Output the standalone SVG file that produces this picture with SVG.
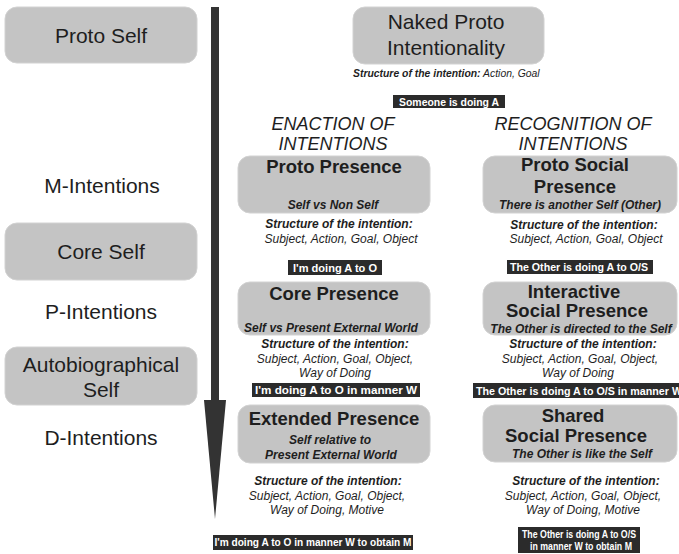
<svg xmlns="http://www.w3.org/2000/svg" width="679" height="554" viewBox="0 0 679 554">
  <style>
    text { font-family: "Liberation Sans", Arial, sans-serif; fill: #1e1e1e; }
    .box { fill: #c4c4c4; stroke: #d2d2d2; stroke-width: 1; }
    .tag { fill: #2b2b2b; }
    .side { font-size: 21px; text-anchor: middle; }
    .head { font-size: 21px; text-anchor: middle; }
    .title { font-size: 18.5px; font-weight: bold; text-anchor: middle; }
    .sub { font-size: 12px; font-weight: bold; font-style: italic; text-anchor: middle; }
    .col { font-size: 18px; font-style: italic; text-anchor: middle; }
    .sl { font-size: 12px; font-weight: bold; font-style: italic; text-anchor: middle; }
    .sv { font-size: 12px; font-style: italic; text-anchor: middle; }
    .tagt { fill: #ffffff; font-size: 10.5px; font-weight: bold; }
    .arrow { fill: #333333; }
  </style>

  <!-- vertical development arrow -->
  <g id="connectors">
    <rect class="arrow" x="211" y="7" width="8" height="394"/>
    <polygon class="arrow" points="204,400 226,400 215,519"/>
  </g>

  <!-- left column: selves and intention levels -->
  <g id="proto-self">
    <rect class="box" x="5" y="7" width="192" height="56" rx="12"/>
    <text class="side" x="101" y="43">Proto Self</text>
  </g>
  <g id="m-intentions">
    <text class="side" x="102" y="193">M-Intentions</text>
  </g>
  <g id="core-self">
    <rect class="box" x="5" y="223" width="192" height="57" rx="12"/>
    <text class="side" x="101" y="259">Core Self</text>
  </g>
  <g id="p-intentions">
    <text class="side" x="101" y="319">P-Intentions</text>
  </g>
  <g id="autobiographical-self">
    <rect class="box" x="5" y="347" width="192" height="58" rx="12"/>
    <text class="side" x="101" y="372">Autobiographical</text>
    <text class="side" x="101" y="397">Self</text>
  </g>
  <g id="d-intentions">
    <text class="side" x="101" y="445">D-Intentions</text>
  </g>

  <!-- top: naked proto intentionality -->
  <g id="naked-proto-intentionality">
    <rect class="box" x="353" y="7" width="191" height="57" rx="12"/>
    <text class="head" x="446" y="29">Naked Proto</text>
    <text class="head" x="446" y="55">Intentionality</text>
    <text x="353" y="77" style="font-size:10.4px"><tspan font-weight="bold" font-style="italic">Structure of the intention:</tspan><tspan font-style="italic"> Action, Goal</tspan></text>
  </g>
  <g id="tag-someone">
    <rect class="tag" x="393" y="95" width="112" height="13"/>
    <text class="tagt" x="449" y="105.5" text-anchor="middle" textLength="100" lengthAdjust="spacingAndGlyphs">Someone is doing A</text>
  </g>

  <!-- column headings -->
  <g id="enaction-heading">
    <text class="col" x="333" y="130">ENACTION OF</text>
    <text class="col" x="333" y="150">INTENTIONS</text>
  </g>
  <g id="recognition-heading">
    <text class="col" x="573" y="130">RECOGNITION OF</text>
    <text class="col" x="573" y="150">INTENTIONS</text>
  </g>

  <!-- enaction column -->
  <g id="proto-presence">
    <rect class="box" x="238" y="156" width="192" height="57" rx="12"/>
    <text class="title" x="334" y="173">Proto Presence</text>
    <text class="sub" x="333" y="209">Self vs Non Self</text>
    <text class="sl" x="339" y="228">Structure of the intention:</text>
    <text class="sv" x="341" y="243">Subject, Action, Goal, Object</text>
  </g>
  <g id="tag-doing-a-o">
    <rect class="tag" x="288" y="260" width="94" height="15"/>
    <text class="tagt" x="335" y="271.5" text-anchor="middle" textLength="84" lengthAdjust="spacingAndGlyphs">I'm doing A to O</text>
  </g>

  <g id="core-presence">
    <rect class="box" x="238" y="282" width="192" height="53" rx="12"/>
    <text class="title" x="334" y="300">Core Presence</text>
    <text class="sub" x="331" y="332">Self vs Present External World</text>
    <text class="sl" x="335" y="348">Structure of the intention:</text>
    <text class="sv" x="335" y="363">Subject, Action, Goal, Object,</text>
    <text class="sv" x="335" y="377">Way of Doing</text>
  </g>
  <g id="tag-doing-manner">
    <rect class="tag" x="252" y="383" width="168" height="14"/>
    <text class="tagt" x="336" y="394" text-anchor="middle" textLength="162" lengthAdjust="spacingAndGlyphs">I'm doing A to O in manner W</text>
  </g>

  <g id="extended-presence">
    <rect class="box" x="238" y="405" width="192" height="58" rx="12"/>
    <text class="title" x="334" y="425">Extended Presence</text>
    <text class="sub" x="330" y="444">Self relative to</text>
    <text class="sub" x="331" y="459">Present External World</text>
    <text class="sl" x="328" y="485">Structure of the intention:</text>
    <text class="sv" x="327" y="500">Subject, Action, Goal, Object,</text>
    <text class="sv" x="327" y="514">Way of Doing, Motive</text>
  </g>
  <g id="tag-doing-motive">
    <rect class="tag" x="213" y="535" width="200" height="15"/>
    <text class="tagt" x="313" y="546" text-anchor="middle" textLength="197" lengthAdjust="spacingAndGlyphs">I'm doing A to O in manner W to obtain M</text>
  </g>

  <!-- recognition column -->
  <g id="proto-social-presence">
    <rect class="box" x="483" y="156" width="194" height="57" rx="12"/>
    <text class="title" x="575" y="171">Proto Social</text>
    <text class="title" x="575" y="193">Presence</text>
    <text class="sub" x="580" y="209">There is another Self (Other)</text>
    <text class="sl" x="584" y="229">Structure of the intention:</text>
    <text class="sv" x="586" y="243">Subject, Action, Goal, Object</text>
  </g>
  <g id="tag-other-a-os">
    <rect class="tag" x="507" y="260" width="146" height="14"/>
    <text class="tagt" x="579" y="271" text-anchor="middle" textLength="138" lengthAdjust="spacingAndGlyphs">The Other is doing A to O/S</text>
  </g>

  <g id="interactive-social-presence">
    <rect class="box" x="483" y="282" width="194" height="53" rx="12"/>
    <text class="title" x="574" y="298">Interactive</text>
    <text class="title" x="577" y="317">Social Presence</text>
    <text class="sub" x="581" y="333">The Other is directed to the Self</text>
    <text class="sl" x="583" y="348">Structure of the intention:</text>
    <text class="sv" x="580" y="363">Subject, Action, Goal, Object,</text>
    <text class="sv" x="578" y="377">Way of Doing</text>
  </g>
  <g id="tag-other-manner">
    <rect class="tag" x="473" y="383" width="212" height="15"/>
    <text class="tagt" x="476" y="394.5" textLength="206" lengthAdjust="spacingAndGlyphs">The Other is doing A to O/S in manner W</text>
  </g>

  <g id="shared-social-presence">
    <rect class="box" x="483" y="405" width="194" height="57" rx="12"/>
    <text class="title" x="573" y="422">Shared</text>
    <text class="title" x="576" y="442">Social Presence</text>
    <text class="sub" x="582" y="458">The Other is like the Self</text>
    <text class="sl" x="586" y="485">Structure of the intention:</text>
    <text class="sv" x="583" y="500">Subject, Action, Goal, Object,</text>
    <text class="sv" x="583" y="514">Way of Doing, Motive</text>
  </g>
  <g id="tag-other-motive">
    <rect class="tag" x="518" y="527" width="122" height="26"/>
    <text class="tagt" x="579" y="538" text-anchor="middle" textLength="114" lengthAdjust="spacingAndGlyphs">The Other is doing A to O/S</text>
    <text class="tagt" x="581" y="550" text-anchor="middle" textLength="102" lengthAdjust="spacingAndGlyphs">in manner W to obtain M</text>
  </g>
</svg>
